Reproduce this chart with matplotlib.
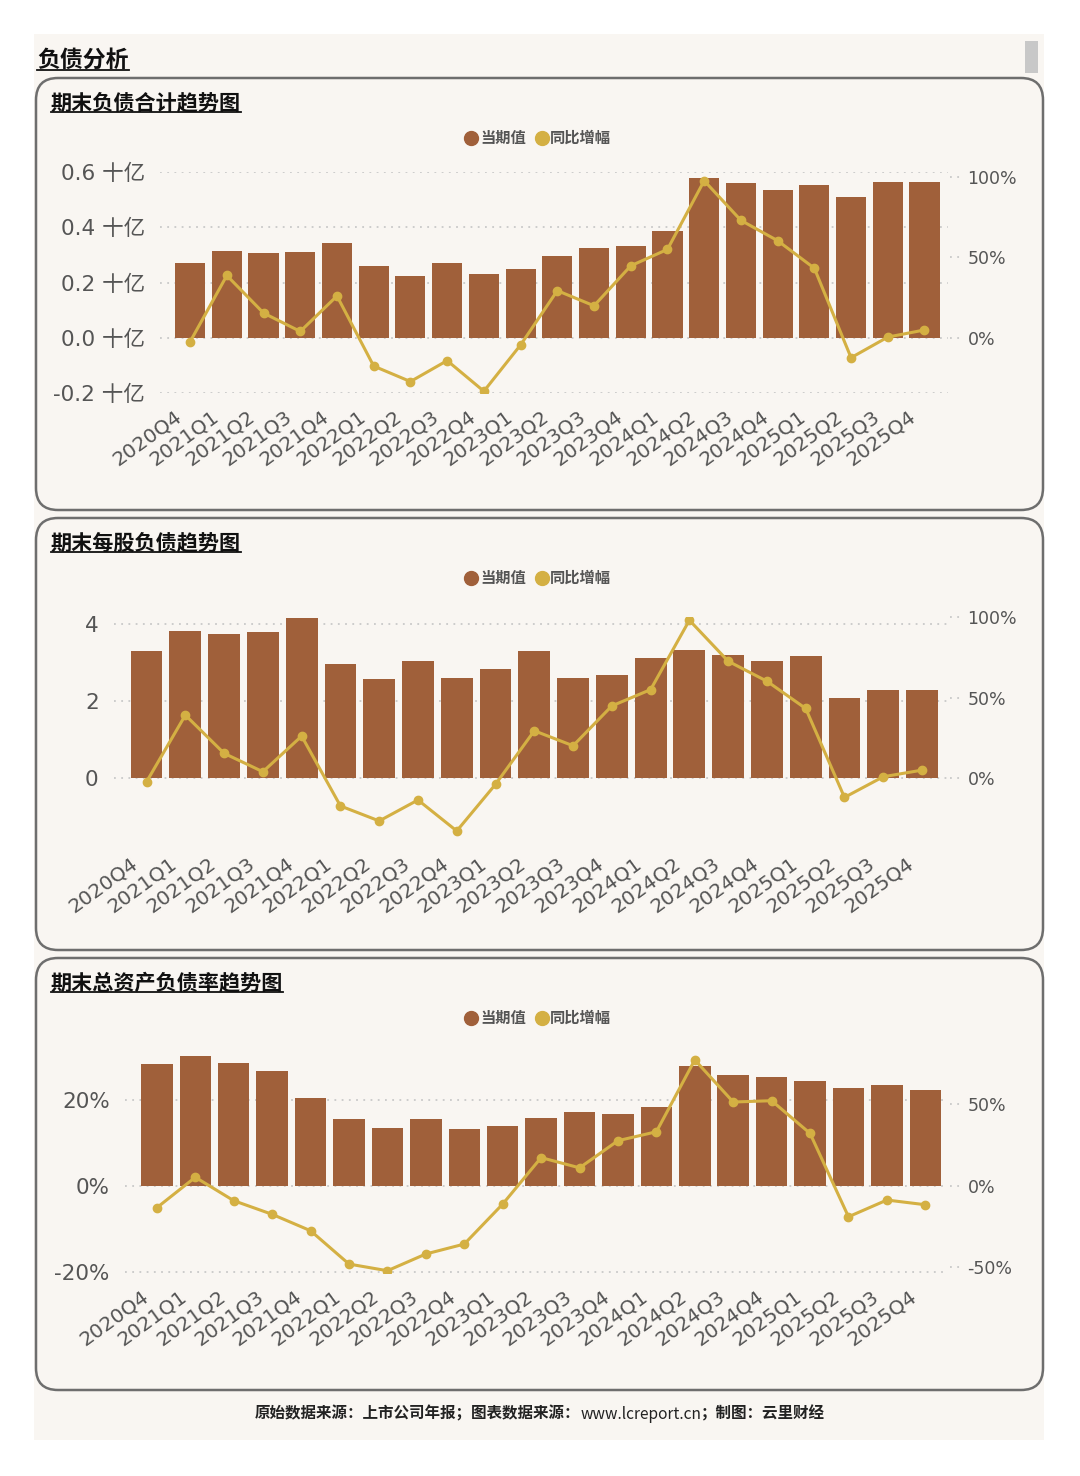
import numpy as np
import matplotlib.pyplot as plt
import matplotlib.transforms as mtransforms
from matplotlib.patches import FancyBboxPatch, Rectangle
from matplotlib.lines import Line2D
from matplotlib.offsetbox import TextArea, HPacker, AnchoredOffsetbox

plt.rcParams['font.family'] = ['DejaVu Sans', 'Noto Sans CJK SC']
CJK = ['Noto Sans CJK SC', 'DejaVu Sans']

# data
quarters = ['2020Q4', '2021Q1', '2021Q2', '2021Q3', '2021Q4', '2022Q1', '2022Q2',
            '2022Q3', '2022Q4', '2023Q1', '2023Q2', '2023Q3', '2023Q4', '2024Q1',
            '2024Q2', '2024Q3', '2024Q4', '2025Q1', '2025Q2', '2025Q3', '2025Q4']

# 期末负债合计 (十亿) and yoy (%)
total_liab = [0.271, 0.315, 0.307, 0.311, 0.344, 0.260, 0.224, 0.271, 0.231, 0.250, 0.295,
              0.324, 0.333, 0.387, 0.580, 0.559, 0.536, 0.553, 0.509, 0.564, 0.562]
total_yoy = [-2.3, 38.8, 15.5, 4.1, 26.1, -17.4, -27.0, -14.0, -33.0, -4.3, 29.4,
             20.0, 44.8, 55.0, 97.6, 73.0, 60.4, 43.3, -12.2, 0.6, 5.0]

# 期末每股负债 and yoy (%)
per_share = [3.30, 3.82, 3.75, 3.80, 4.16, 2.96, 2.58, 3.06, 2.61, 2.83, 3.32,
             2.61, 2.68, 3.12, 3.33, 3.21, 3.06, 3.17, 2.08, 2.29, 2.29]
per_share_yoy = [-2.1, 39.2, 15.5, 4.1, 26.2, -17.1, -26.4, -13.4, -32.6, -3.7, 29.5,
                 20.2, 44.9, 55.0, 98.0, 72.6, 60.2, 43.3, -11.8, 1.0, 5.1]

# 期末总资产负债率 (%) and yoy (%)
debt_ratio = [28.2, 30.2, 28.5, 26.7, 20.4, 15.6, 13.5, 15.5, 13.2, 13.8, 15.7,
              17.0, 16.7, 18.3, 27.9, 25.7, 25.2, 24.3, 22.6, 23.4, 22.3]
ratio_yoy = [-13.5, 5.2, -9.2, -17.6, -27.7, -48.2, -52.3, -42.0, -35.9, -11.3, 17.3,
             11.0, 27.7, 33.2, 77.4, 51.5, 52.3, 32.2, -19.1, -8.8, -11.7]

bar_color = '#A0603A'
line_color = '#D4B043'
bg = '#F9F6F2'
text_gray = '#555555'
grid_gray = '#C9C9C9'

W, H = 1080, 1476
fig = plt.figure(figsize=(W / 100, H / 100), dpi=100)
fig.patch.set_facecolor('white')


def fx(px):
    return px / W


def fy(py):
    return 1 - py / H


# page background and scrollbar
fig.add_artist(Rectangle((fx(34), fy(1440)), (1044 - 34) / W, (1440 - 34) / H,
                         transform=fig.transFigure, fc=bg, ec='none', zorder=-3))
fig.add_artist(Rectangle((fx(1025), fy(73)), 13 / W, 32 / H,
                         transform=fig.transFigure, fc='#C8C8C8', ec='none', zorder=-2))

# rounded panel boxes (in inches so the corners stay round)
for top, bottom in [(78, 510), (518, 950), (958, 1390)]:
    fig.add_artist(FancyBboxPatch((36 / 100, (H - bottom) / 100), (1043 - 36) / 100,
                                  (bottom - top) / 100,
                                  boxstyle='round,pad=0,rounding_size=0.22',
                                  transform=fig.dpi_scale_trans, fc=bg, ec='#6E6E6E',
                                  lw=1.8, zorder=-2))

titles = []
titles.append(fig.text(fx(37), fy(60), '负债分析', fontsize=16.5, fontweight='bold',
                       family=CJK, color='#111111', va='center'))
for y, t in [(103, '期末负债合计趋势图'), (543, '期末每股负债趋势图'), (983, '期末总资产负债率趋势图')]:
    titles.append(fig.text(fx(51), fy(y), t, fontsize=15.2, fontweight='bold',
                           family=CJK, color='#111111', va='center'))

# legends
for y in [138, 578, 1018]:
    fig.add_artist(Line2D([fx(471)], [fy(y)], marker='o', ms=10, color=bar_color,
                          transform=fig.transFigure))
    fig.text(fx(480), fy(y), '当期值', fontsize=11, fontweight='bold', family=CJK,
             color=text_gray, va='center')
    fig.add_artist(Line2D([fx(542)], [fy(y)], marker='o', ms=10, color=line_color,
                          transform=fig.transFigure))
    fig.text(fx(550), fy(y), '同比增幅', fontsize=11, fontweight='bold', family=CJK,
             color=text_gray, va='center')

# shift for rotated quarter labels (pixels -> inches)
label_shift = mtransforms.ScaledTranslation(-16 / 100, -3 / 100, fig.dpi_scale_trans)


def make_chart(box, xlim, bars, yoy, ylim, yticks, ylabels, rlim, rticks, rlabels):
    left, top, right, bottom = box
    ax = fig.add_axes([fx(left), fy(bottom), (right - left) / W, (bottom - top) / H])
    ax.set_facecolor('none')
    x = np.arange(len(quarters))
    ax.bar(x, bars, width=0.82, color=bar_color, zorder=2)
    ax.set_xlim(*xlim)
    ax.set_ylim(*ylim)
    ax.set_yticks(yticks)
    ax.set_yticklabels(ylabels)
    ax.set_xticks(x)
    ax.set_xticklabels(quarters, rotation=36, ha='right', rotation_mode='anchor')
    ax.tick_params(axis='x', length=0, pad=8, labelsize=14.5, labelcolor=text_gray)
    ax.tick_params(axis='y', length=0, pad=11, labelsize=15.5, labelcolor=text_gray)
    for lbl in ax.get_xticklabels():
        lbl.set_transform(lbl.get_transform() + label_shift)
    ax.grid(axis='y', color=grid_gray, linestyle=(0, (1, 3)), lw=1.3)
    ax.set_axisbelow(True)
    for s in ax.spines.values():
        s.set_visible(False)

    ax2 = ax.twinx()
    ax2.plot(x, yoy, color=line_color, lw=2.2, marker='o', ms=6, zorder=3)
    ax2.set_ylim(*rlim)
    ax2.set_yticks(rticks)
    ax2.set_yticklabels(rlabels)
    ax2.tick_params(axis='y', length=0, pad=14, labelsize=12.5, labelcolor=text_gray)
    ax2.hlines(rticks, 1.002, 1.016, transform=ax2.get_yaxis_transform(), color=grid_gray,
               linestyle=(0, (1, 3)), lw=1.3, clip_on=False)
    for s in ax2.spines.values():
        s.set_visible(False)
    return ax


make_chart((160, 172, 948, 393), (-0.82, 20.64), total_liab, total_yoy,
           (-0.2, 0.6), [-0.2, 0.0, 0.2, 0.4, 0.6],
           ['-0.2 十亿', '0.0 十亿', '0.2 十亿', '0.4 十亿', '0.6 十亿'],
           (-34.1, 103), [0, 50, 100], ['0%', '50%', '100%'])

make_chart((114, 617, 948, 840), (-0.84, 20.67), per_share, per_share_yoy,
           (-1.60, 4.19), [0, 2, 4], ['0', '2', '4'],
           (-38.2, 99.8), [0, 50, 100], ['0%', '50%', '100%'])

make_chart((125, 1050, 948, 1273), (-0.83, 20.59), debt_ratio, ratio_yoy,
           (-20.25, 31.5), [-20, 0, 20], ['-20%', '0%', '20%'],
           (-53.7, 83.5), [-50, 0, 50], ['-50%', '0%', '50%'])

# footer
parts = [TextArea('原始数据来源：上市公司年报；图表数据来源：',
                  textprops=dict(fontsize=11.2, fontweight='bold', family=CJK, color='#222222')),
         TextArea('www.lcreport.cn',
                  textprops=dict(fontsize=11.2, family=CJK, color='#222222')),
         TextArea('；制图：云里财经',
                  textprops=dict(fontsize=11.2, fontweight='bold', family=CJK, color='#222222'))]
footer = AnchoredOffsetbox(loc='center', child=HPacker(children=parts, pad=0, sep=0),
                           bbox_to_anchor=(fx(540), fy(1414)), bbox_transform=fig.transFigure,
                           frameon=False, pad=0, borderpad=0)
fig.add_artist(footer)

# underline the titles
fig.canvas.draw()
renderer = fig.canvas.get_renderer()
inv = fig.transFigure.inverted()
for t in titles:
    bb = t.get_window_extent(renderer)
    (x0, y0), (x1, _) = inv.transform([(bb.x0, bb.y0), (bb.x1, bb.y1)])
    fig.add_artist(Line2D([x0, x1], [y0 + 0.001, y0 + 0.001], color='#111111', lw=1.3,
                          transform=fig.transFigure))

fig.savefig('out.png', dpi=100, facecolor='white')
